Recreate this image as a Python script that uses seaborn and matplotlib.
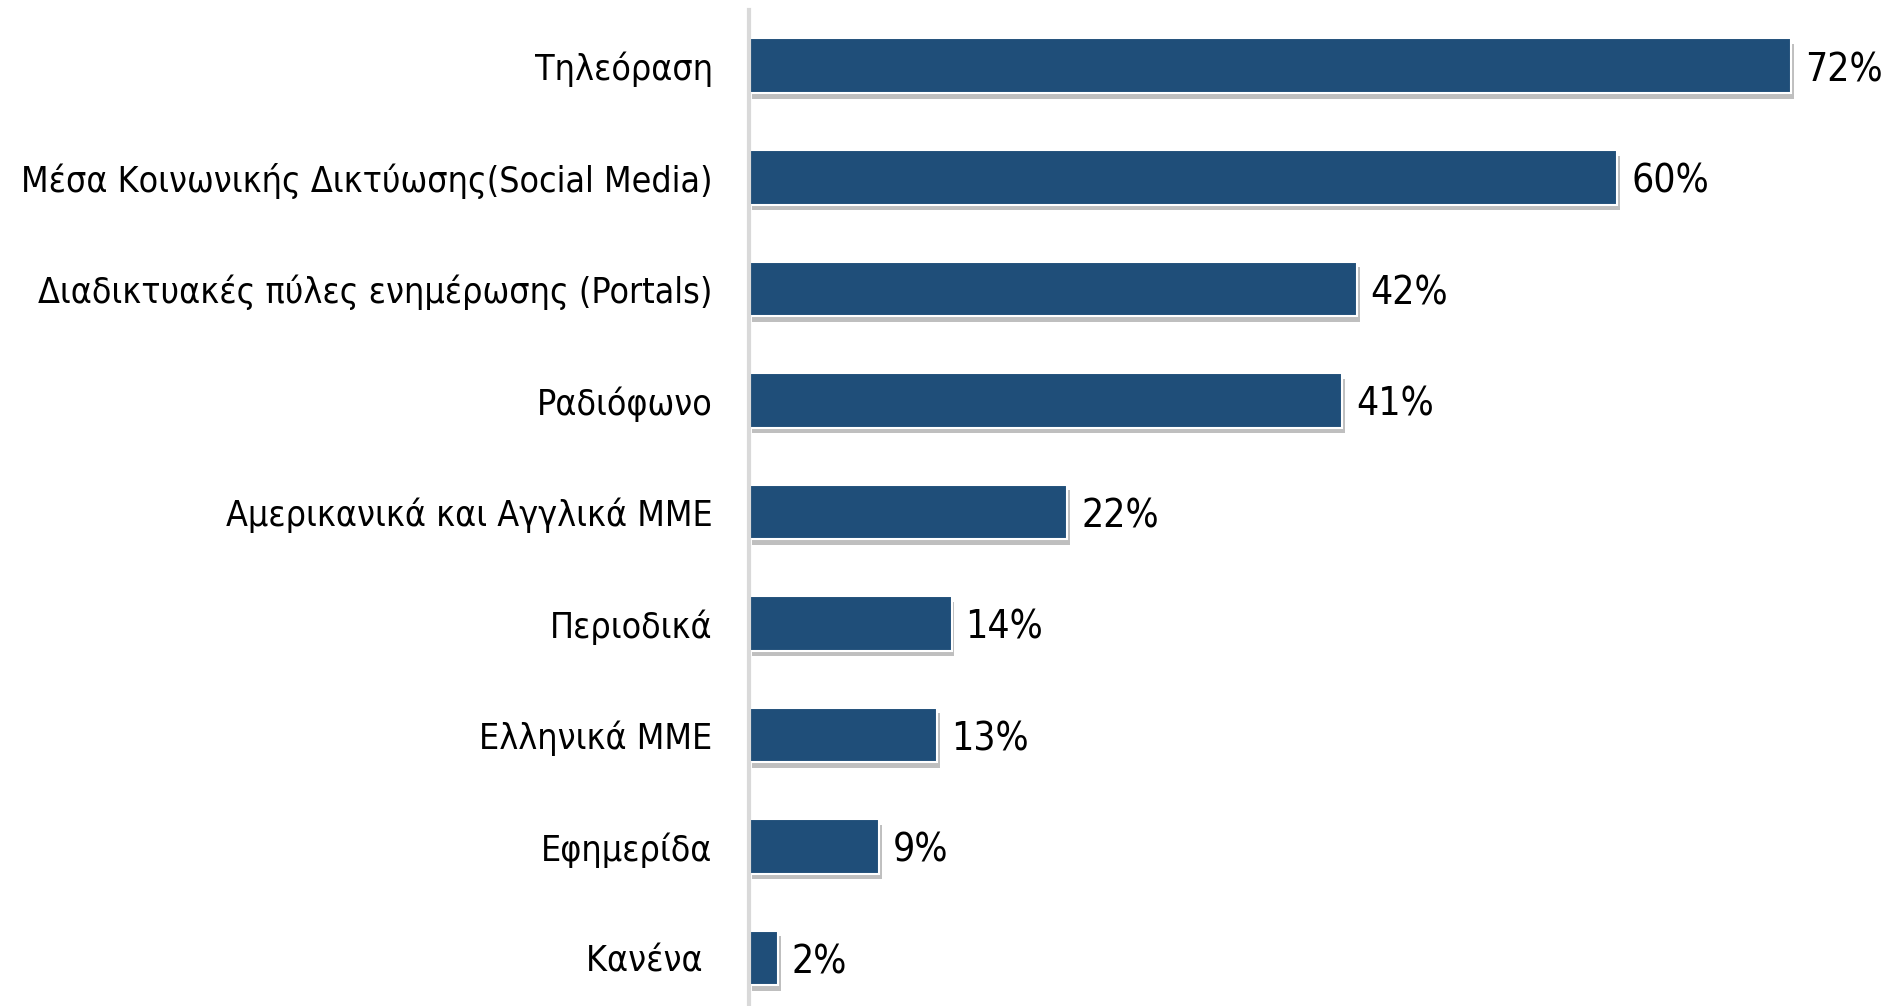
import matplotlib
matplotlib.use("Agg")
import matplotlib.pyplot as plt
import matplotlib.patheffects as pe
import pandas as pd
import seaborn as sns

categories = [
    "Τηλεόραση",
    "Μέσα Κοινωνικής Δικτύωσης(Social Media)",
    "Διαδικτυακές πύλες ενημέρωσης (Portals)",
    "Ραδιόφωνο",
    "Αμερικανικά και Αγγλικά ΜΜΕ",
    "Περιοδικά",
    "Ελληνικά ΜΜΕ",
    "Εφημερίδα",
    "Κανένα ",
]
values = [72, 60, 42, 41, 22, 14, 13, 9, 2]

df = pd.DataFrame({"media": categories, "pct": values})

sns.set_style("white")
plt.rcParams["font.family"] = ["DejaVu Sans"]
plt.rcParams["font.stretch"] = "condensed"

fig = plt.figure(figsize=(18.91, 10.06), dpi=100)
ax = fig.add_axes([0.396, 0.0, 0.604, 0.990])

sns.barplot(data=df, x="pct", y="media", color="#1F4E79", width=0.49,
            saturation=1, edgecolor="white", linewidth=1.5, ax=ax)

# soft drop shadow under each bar
for bar in ax.patches:
    bar.set_path_effects([
        pe.SimplePatchShadow(offset=(2, -4), shadow_rgbFace="black", alpha=0.25),
        pe.Normal(),
    ])

for i, v in enumerate(values):
    ax.text(v + 0.95, i + 0.04, f"{v}%", va="center", ha="left",
            fontsize=28, color="black")

ax.set_xlim(0, 78.9)
ax.set_ylim(8.43, -0.5)
ax.set_xlabel("")
ax.set_ylabel("")
ax.set_xticks([])
ax.tick_params(axis="y", length=0, pad=26, labelsize=25.7, labelcolor="black")

for s in ["top", "right", "bottom"]:
    ax.spines[s].set_visible(False)
ax.spines["left"].set_color("#D9D9D9")
ax.spines["left"].set_linewidth(3)

fig.savefig("out.png", dpi=100)
